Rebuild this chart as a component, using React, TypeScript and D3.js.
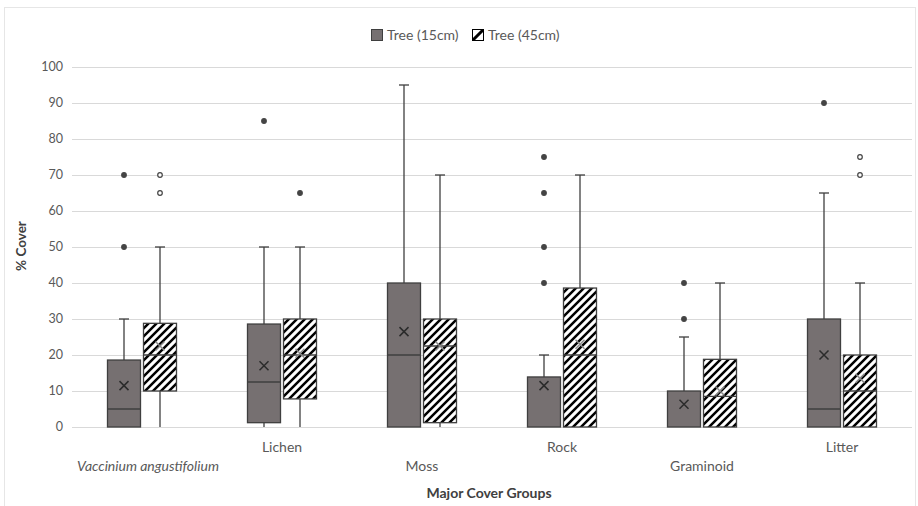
import React from "react";
import * as d3 from "d3";

const categories = ["Vaccinium angustifolium", "Lichen", "Moss", "Rock", "Graminoid", "Litter"];
const yTicks = [0, 10, 20, 30, 40, 50, 60, 70, 80, 90, 100];
const seriesNames = ["Tree (15cm)", "Tree (45cm)"];

// Tree (15cm)
const t15Min = [0, 0, 0, 0, 0, 0];
const t15Q1 = [0, 1.2, 0, 0, 0, 0];
const t15Med = [5, 12.5, 20, 0, 0, 5];
const t15Q3 = [18.6, 28.6, 40, 13.9, 10, 30];
const t15Max = [30, 50, 95, 20, 25, 65];
const t15Mean = [11.5, 17, 26.5, 11.5, 6.3, 20];
const t15Out = [[50, 70], [85], [], [40, 50, 65, 75], [30, 40], [90]];

// Tree (45cm)
const t45Min = [0, 0, 0, 0, 0, 0];
const t45Q1 = [10, 7.8, 1.2, 0, 0, 0];
const t45Med = [20, 20, 22.5, 20, 8.5, 10];
const t45Q3 = [28.8, 30, 30, 38.6, 18.8, 20];
const t45Max = [50, 50, 70, 70, 40, 40];
const t45Mean = [22.5, 20.5, 22.5, 23, 10, 13.5];
const t45Out = [[65, 70], [65], [], [], [], [70, 75]];

const W = 918;
const H = 506;
const left = 72;
const right = 912;
const top = 67;
const bottom = 427;
const FONT = "Lato, 'Open Sans', sans-serif";
const TXT = "#595959";
const DARK = "#3f3f3f";
const GRAY = "#767071";

export default function App() {
  const x = d3.scaleBand<string>().domain(categories).range([left, right]);
  const y = d3.scaleLinear().domain([0, 100]).range([bottom, top]);
  const bw = 33;
  const off = 18;

  const series = [
    { min: t15Min, q1: t15Q1, med: t15Med, q3: t15Q3, max: t15Max, mean: t15Mean, out: t15Out, dx: -off, fill: GRAY, meanColor: "#2b2b2b", hollow: false },
    { min: t45Min, q1: t45Q1, med: t45Med, q3: t45Q3, max: t45Max, mean: t45Mean, out: t45Out, dx: off, fill: "url(#hatch)", meanColor: "#8a8a8a", hollow: true },
  ];

  return (
    <div style={{ position: "fixed", left: 0, top: 0 }}>
      <svg width={W} height={H} style={{ display: "block" }}>
        <defs>
          <pattern id="hatch" patternUnits="userSpaceOnUse" width={8} height={8}>
            <rect width={8} height={8} fill="#fff" />
            <path d="M-2,2 L2,-2 M0,8 L8,0 M6,10 L10,6" stroke="#000" strokeWidth={2.5} />
          </pattern>
        </defs>
        <rect x={0} y={0} width={W} height={H} fill="#fff" />
        <rect x={4.5} y={7.5} width={911} height={505} fill="#fff" stroke="#e6e6e6" strokeWidth={1} />

        {/* grid */}
        {yTicks.map((t) => (
          <g key={t}>
            <line x1={left} x2={right} y1={Math.round(y(t)) + 0.5} y2={Math.round(y(t)) + 0.5} stroke="#d9d9d9" strokeWidth={1} />
            <text x={63} y={y(t)} dy="0.35em" textAnchor="end" fontFamily={FONT} fontSize={12.5} fill={TXT}>
              {t}
            </text>
          </g>
        ))}

        {/* boxes */}
        {categories.map((c, i) => {
          const cx0 = (x(c) as number) + x.bandwidth() / 2;
          return (
            <g key={c}>
              {series.map((s, si) => {
                const cx = cx0 + s.dx;
                const x0 = cx - bw / 2;
                const yq1 = y(s.q1[i]);
                const yq3 = y(s.q3[i]);
                const m = 4.5;
                const ym = y(s.mean[i]);
                return (
                  <g key={si}>
                    {s.max[i] > s.q3[i] && (
                      <>
                        <line x1={cx} x2={cx} y1={y(s.max[i])} y2={yq3} stroke={DARK} strokeWidth={1.3} />
                        <line x1={cx - 5} x2={cx + 5} y1={y(s.max[i])} y2={y(s.max[i])} stroke={DARK} strokeWidth={1.3} />
                      </>
                    )}
                    {s.min[i] < s.q1[i] && (
                      <line x1={cx} x2={cx} y1={y(s.min[i])} y2={yq1} stroke={DARK} strokeWidth={1.3} />
                    )}
                    <rect x={x0} y={yq3} width={bw} height={yq1 - yq3} fill={s.fill} stroke={DARK} strokeWidth={1.3} />
                    {s.med[i] > 0 && (
                      <line x1={x0} x2={x0 + bw} y1={y(s.med[i])} y2={y(s.med[i])} stroke={DARK} strokeWidth={1.3} />
                    )}
                    <path
                      d={`M${cx - m},${ym - m} L${cx + m},${ym + m} M${cx - m},${ym + m} L${cx + m},${ym - m}`}
                      stroke={s.meanColor}
                      strokeWidth={1.5}
                      fill="none"
                    />
                    {s.out[i].map((v, k) => (
                      <circle
                        key={k}
                        cx={cx}
                        cy={y(v)}
                        r={2.3}
                        fill={s.hollow && !(i === 1) ? "#fff" : "#444"}
                        stroke="#444"
                        strokeWidth={1.2}
                      />
                    ))}
                  </g>
                );
              })}
              <text
                x={cx0 + (i === 0 ? 6 : 0)}
                y={i % 2 === 0 ? 471 : 452}
                textAnchor="middle"
                fontFamily={FONT}
                fontSize={14}
                fontStyle={i === 0 ? "italic" : "normal"}
                fill={TXT}
              >
                {c}
              </text>
            </g>
          );
        })}

        {/* axis titles */}
        <text x={489} y={498} textAnchor="middle" fontFamily={FONT} fontSize={14} fontWeight="bold" fill="#404040">
          Major Cover Groups
        </text>
        <text
          transform="translate(26,246) rotate(-90)"
          textAnchor="middle"
          fontFamily={FONT}
          fontSize={13.5}
          fontWeight="bold"
          fill="#404040"
        >
          % Cover
        </text>

        {/* legend */}
        <rect x={371.5} y={29.5} width={11} height={11} fill={GRAY} stroke={DARK} strokeWidth={1} />
        <text x={387} y={35} dy="0.35em" fontFamily={FONT} fontSize={14} fill={TXT}>
          {seriesNames[0]}
        </text>
        <rect x={472.5} y={29.5} width={11} height={11} fill="#fff" stroke="#000" strokeWidth={1} />
        <line x1={473} y1={40} x2={483} y2={30} stroke="#000" strokeWidth={3} />
        <text x={488} y={35} dy="0.35em" fontFamily={FONT} fontSize={14} fill={TXT}>
          {seriesNames[1]}
        </text>
      </svg>
    </div>
  );
}
